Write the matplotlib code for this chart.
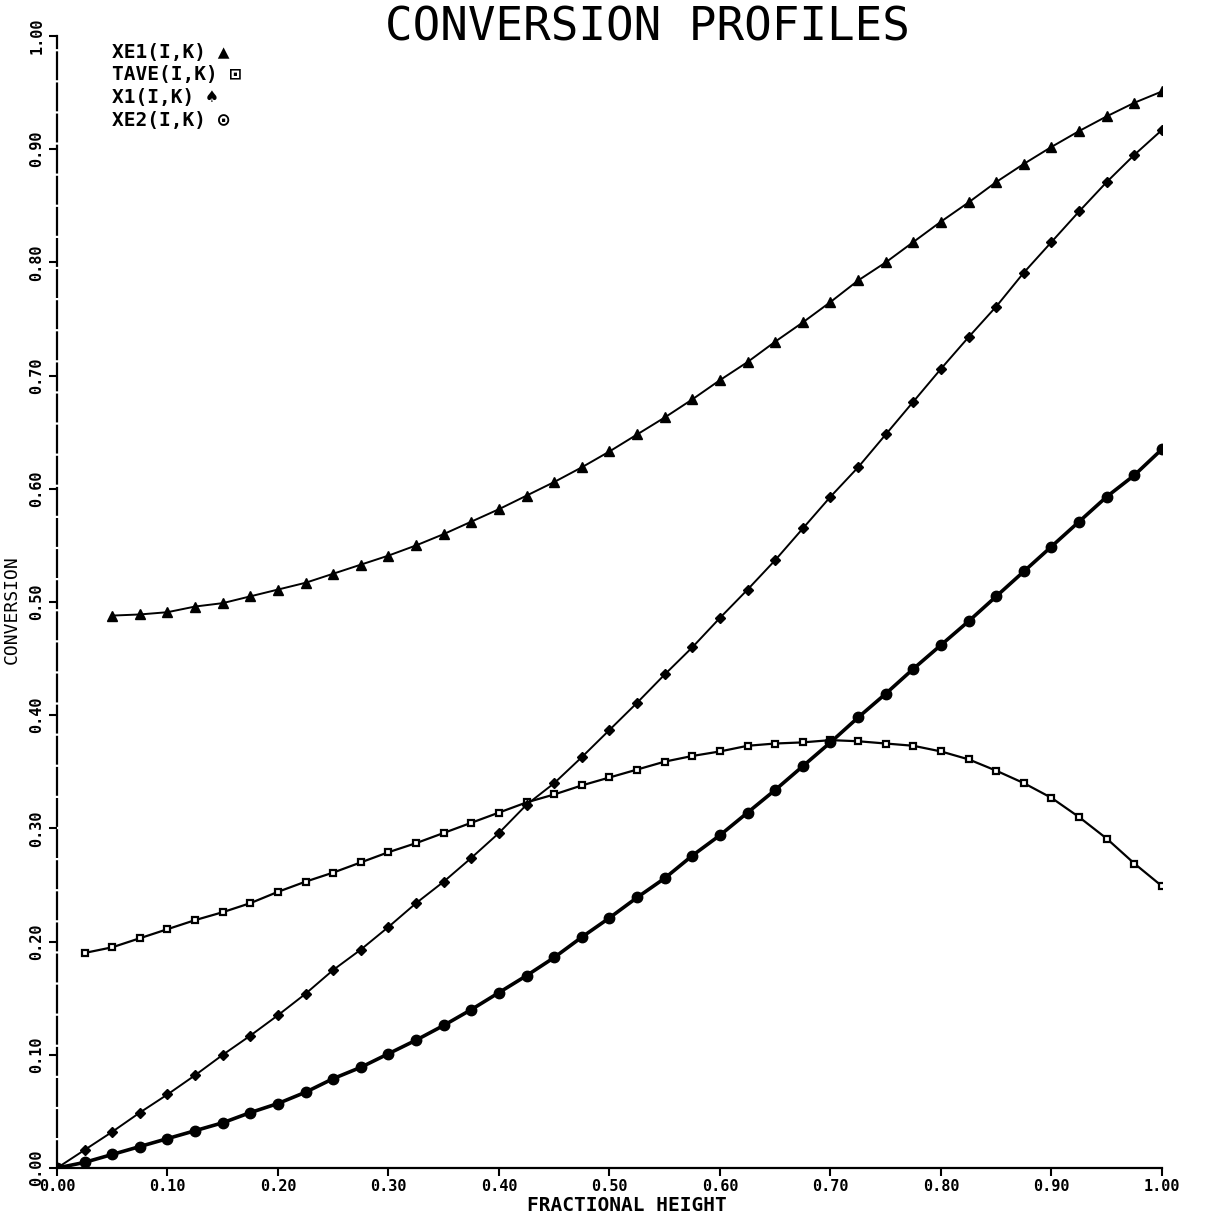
# Conversion profiles vs fractional height (plotter-style replot)

import numpy as np
import matplotlib
matplotlib.use('Agg')
import matplotlib.pyplot as plt

# fractional height grid (every 0.025)
h_x1 = np.round(np.arange(0, 41) * 0.025, 3)
h_xe2 = h_x1
h_xe1 = np.round(np.arange(2, 41) * 0.025, 3)
h_tave = np.round(np.arange(1, 41) * 0.025, 3)

# XE1(I,K) - triangles, top curve
xe1 = [0.488, 0.489, 0.491, 0.496, 0.499, 0.505, 0.511, 0.517, 0.525, 0.533,
       0.541, 0.550, 0.560, 0.571, 0.582, 0.594, 0.606, 0.619, 0.633, 0.648,
       0.663, 0.679, 0.696, 0.712, 0.730, 0.747, 0.765, 0.784, 0.800, 0.818,
       0.836, 0.853, 0.871, 0.887, 0.902, 0.916, 0.929, 0.941, 0.951]

# TAVE(I,K) - open squares, hump curve
tave = [0.190, 0.195, 0.203, 0.211, 0.219, 0.226, 0.234, 0.244, 0.253, 0.261,
        0.270, 0.279, 0.287, 0.296, 0.305, 0.314, 0.323, 0.330, 0.338, 0.345,
        0.352, 0.359, 0.364, 0.368, 0.373, 0.375, 0.376, 0.378, 0.377, 0.375,
        0.373, 0.368, 0.361, 0.351, 0.340, 0.327, 0.310, 0.291, 0.269, 0.249]

# X1(I,K) - small filled markers, S curve
x1 = [0.000, 0.016, 0.032, 0.049, 0.065, 0.082, 0.100, 0.117, 0.135, 0.154,
      0.175, 0.193, 0.213, 0.234, 0.253, 0.274, 0.296, 0.321, 0.340, 0.363,
      0.387, 0.411, 0.436, 0.460, 0.486, 0.511, 0.537, 0.565, 0.593, 0.619,
      0.648, 0.677, 0.706, 0.734, 0.761, 0.791, 0.818, 0.845, 0.871, 0.895,
      0.917]

# XE2(I,K) - filled circles, heavy line
xe2 = [0.000, 0.005, 0.012, 0.019, 0.026, 0.033, 0.040, 0.049, 0.057, 0.067,
       0.079, 0.089, 0.101, 0.113, 0.126, 0.140, 0.155, 0.170, 0.186, 0.204,
       0.221, 0.239, 0.256, 0.276, 0.294, 0.314, 0.334, 0.355, 0.376, 0.398,
       0.419, 0.441, 0.462, 0.483, 0.505, 0.527, 0.549, 0.571, 0.593, 0.612,
       0.635]

ticks = [0.0, 0.1, 0.2, 0.3, 0.4, 0.5, 0.6, 0.7, 0.8, 0.9, 1.0]
tick_labels = ['0.00', '0.10', '0.20', '0.30', '0.40', '0.50',
               '0.60', '0.70', '0.80', '0.90', '1.00']

legend_lines = ['XE1(I,K) \u25b2', 'TAVE(I,K) \u22a1', 'X1(I,K) \u2660', 'XE2(I,K) \u2299']

mono = 'DejaVu Sans Mono'
plt.rcParams['font.family'] = mono

fig = plt.figure(figsize=(12.05, 12.19), dpi=100)
ax = fig.add_axes([0.0473, 0.0418, 0.917, 0.9287])

ax.plot(h_xe1, xe1, color='black', lw=1.4, marker='^', ms=7, mfc='black', mec='black')
ax.plot(h_tave, tave, color='black', lw=1.6, marker='s', ms=5, mfc='white', mec='black', mew=1.6)
ax.plot(h_x1, x1, color='black', lw=1.4, marker='D', ms=5, mfc='black', mec='black')
ax.plot(h_xe2, xe2, color='black', lw=2.6, marker='o', ms=7.5, mfc='black', mec='black')

ax.set_xlim(0, 1.0)
ax.set_ylim(0, 1.0)
ax.set_xticks(ticks)
ax.set_xticklabels(tick_labels, fontsize=11, fontweight='bold')
ax.set_yticks(ticks)
ax.set_yticklabels(tick_labels, fontsize=11, fontweight='bold', rotation=90, va='center')
ax.tick_params(direction='out', length=6, width=1.5, pad=2)
ax.tick_params(axis='y', pad=3)
for side in ['top', 'right']:
    ax.spines[side].set_visible(False)
for side in ['left', 'bottom']:
    ax.spines[side].set_linewidth(1.6)
ax.spines['left'].set_linestyle((0, (12, 2)))

# legend block, top left
for i, txt in enumerate(legend_lines):
    fig.text(0.093, 0.957 - i * 0.0185, txt, fontsize=14, fontweight='bold',
             family=[mono, 'DejaVu Sans'], va='center', ha='left')

fig.text(0.537, 0.967, 'CONVERSION PROFILES', ha='center', va='baseline', fontsize=33)
fig.text(0.52, 0.003, 'FRACTIONAL HEIGHT', ha='center', va='bottom', fontsize=14, fontweight='bold')
fig.text(0.010, 0.5, 'CONVERSION', ha='center', va='center', fontsize=13, rotation=90)

fig.savefig('out.png', dpi=100)
